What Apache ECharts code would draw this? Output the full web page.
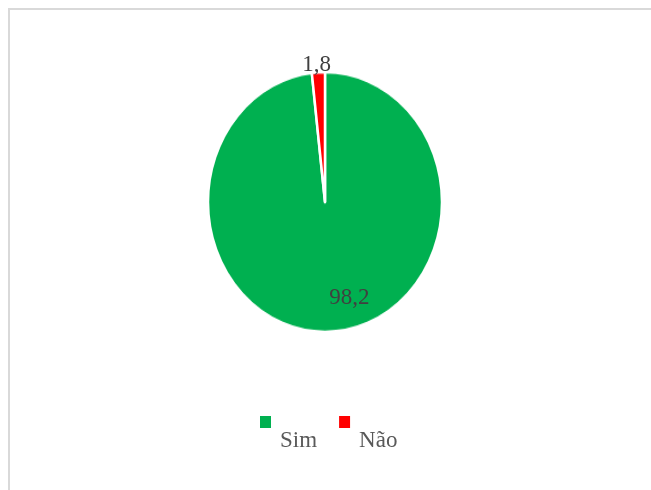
<!DOCTYPE html>
<html>
<head>
<meta charset="utf-8">
<script src="https://cdn.jsdelivr.net/npm/echarts@6/dist/echarts.min.js"></script>
<style>
  html, body { margin: 0; padding: 0; background: #ffffff; }
  #wrap { position: relative; width: 651px; height: 490px; overflow: hidden; background: #ffffff; }
  #frame { position: absolute; left: 8px; top: 8px; width: 700px; height: 600px;
           border-top: 2px solid #d9d9d9; border-left: 2px solid #d9d9d9; box-sizing: border-box; }
  /* the pie plot area is wider than tall in the original layout; stretch the disc vertically */
  #pie { position: absolute; left: 0; top: 0; width: 651px; height: 490px;
         transform: scaleY(1.111); transform-origin: 325px 202px; }
  #overlay { position: absolute; left: 0; top: 0; width: 651px; height: 490px; }
</style>
</head>
<body>
<div id="wrap">
  <div id="frame"></div>
  <div id="pie"></div>
  <div id="overlay"></div>
</div>
<script>
// Share of answers (%)
const categories = ['Sim', 'Não'];
const percentages = [98.2, 1.8];
const sliceColors = ['#00B050', '#FF0000'];

const fmt = v => v.toFixed(1).replace('.', ',');

const pieData = categories.map((name, i) => ({
  name: name,
  value: percentages[i],
  itemStyle: { color: sliceColors[i] }
}));

// Disc (stretched layer, no text)
const pieChart = echarts.init(document.getElementById('pie'), null, { renderer: 'canvas' });
pieChart.setOption({
  animation: false,
  series: [{
    type: 'pie',
    center: [325, 202],
    radius: 117,
    startAngle: 90,
    clockwise: true,
    avoidLabelOverlap: false,
    itemStyle: { borderColor: '#ffffff', borderWidth: 2.5 },
    label: { show: false },
    labelLine: { show: false },
    emphasis: { disabled: true },
    data: pieData
  }]
});

// Text layer: data labels and legend, unstretched
const labelOffsets = [[21, 35], [-5, -76]];
const overlay = echarts.init(document.getElementById('overlay'), null, { renderer: 'canvas' });
overlay.setOption({
  animation: false,
  legend: {
    left: 260,
    top: 416,
    padding: 0,
    orient: 'horizontal',
    itemWidth: 11,
    itemHeight: 12,
    itemGap: 22,
    icon: 'rect',
    selectedMode: false,
    formatter: name => '{t|' + name + '}',
    textStyle: {
      rich: {
        t: {
          fontFamily: 'Liberation Serif',
          fontSize: 23,
          color: '#595959',
          padding: [38, 0, 0, 4]
        }
      }
    },
    data: categories.map((name, i) => ({
      name: name,
      itemStyle: { color: sliceColors[i], opacity: 1 }
    }))
  },
  series: [{
    type: 'pie',
    center: [325, 202],
    radius: 117,
    startAngle: 90,
    clockwise: true,
    avoidLabelOverlap: false,
    silent: true,
    itemStyle: { color: 'rgba(0,0,0,0)', borderWidth: 0 },
    labelLine: { show: false },
    emphasis: { disabled: true },
    data: categories.map((name, i) => ({
      name: name,
      value: percentages[i],
      itemStyle: { color: 'rgba(0,0,0,0)' },
      label: {
        show: true,
        position: 'inside',
        offset: labelOffsets[i],
        formatter: p => fmt(p.value),
        fontFamily: 'Liberation Serif',
        fontSize: 23,
        color: '#404040'
      }
    }))
  }]
});
</script>
</body>
</html>
